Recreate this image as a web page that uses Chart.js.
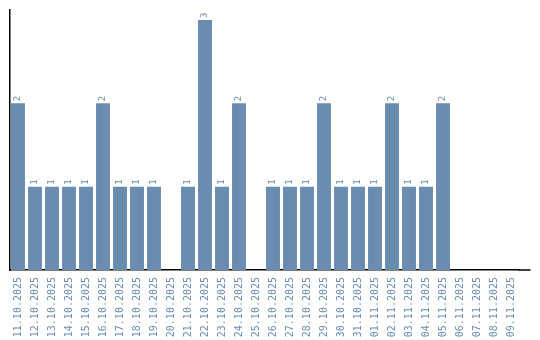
<!DOCTYPE html>
<html>
<head>
<meta charset="utf-8">
<script src="https://cdn.jsdelivr.net/npm/chart.js@4"></script>
<style>
  html, body { margin: 0; padding: 0; background: #fff; }
  #wrap { width: 540px; height: 340px; }
</style>
</head>
<body>
<div id="wrap"><canvas id="chart"></canvas></div>
<script>
const days = [
    '11.10.2025', '12.10.2025', '13.10.2025', '14.10.2025', '15.10.2025',
    '16.10.2025', '17.10.2025', '18.10.2025', '19.10.2025', '20.10.2025',
    '21.10.2025', '22.10.2025', '23.10.2025', '24.10.2025', '25.10.2025',
    '26.10.2025', '27.10.2025', '28.10.2025', '29.10.2025', '30.10.2025',
    '31.10.2025', '01.11.2025', '02.11.2025', '03.11.2025', '04.11.2025',
    '05.11.2025', '06.11.2025', '07.11.2025', '08.11.2025', '09.11.2025'
];
const counts = [2, 1, 1, 1, 1, 2, 1, 1, 1, 0, 1, 3, 1, 2, 0, 1, 1, 1, 2, 1, 1, 1, 2, 1, 1, 2, 0, 0, 0, 0];

const BLUE = '#6a8caf';
const MONO = '"DejaVu Sans Mono", monospace';

// value labels above each bar, rotated like the axis labels
const barLabels = {
    id: 'barLabels',
    afterDatasetsDraw(chart) {
        const ctx = chart.ctx;
        const meta = chart.getDatasetMeta(0);
        ctx.save();
        ctx.fillStyle = BLUE;
        ctx.font = '9px ' + MONO;
        ctx.textAlign = 'left';
        ctx.textBaseline = 'middle';
        meta.data.forEach((bar, i) => {
            if (!counts[i]) return;
            ctx.save();
            ctx.translate(bar.x, bar.y - 2);
            ctx.rotate(-Math.PI / 2);
            ctx.fillText(String(counts[i]), 0, 0);
            ctx.restore();
        });
        ctx.restore();
    }
};

// the baseline runs a little past the last category
const axisTail = {
    id: 'axisTail',
    afterDraw(chart) {
        const { ctx, chartArea } = chart;
        ctx.save();
        ctx.strokeStyle = '#000';
        ctx.lineWidth = 1.5;
        ctx.beginPath();
        ctx.moveTo(chartArea.right - 1, chartArea.bottom);
        ctx.lineTo(chartArea.right + 11, chartArea.bottom);
        ctx.stroke();
        ctx.restore();
    }
};

new Chart(document.getElementById('chart'), {
    type: 'bar',
    data: {
        labels: days,
        datasets: [{
            data: counts,
            backgroundColor: BLUE,
            barPercentage: 0.82,
            categoryPercentage: 1
        }]
    },
    options: {
        responsive: true,
        maintainAspectRatio: false,
        animation: false,
        layout: { padding: { left: 9.5, right: 20.5, top: 10, bottom: 0 } },
        plugins: { legend: { display: false }, tooltip: { enabled: false } },
        scales: {
            x: {
                grid: { display: false },
                border: { display: true, color: '#000', width: 1.5 },
                ticks: {
                    color: BLUE,
                    font: { family: MONO, size: 10 },
                    maxRotation: 90,
                    minRotation: 90,
                    autoSkip: false,
                    padding: -1
                },
                afterFit(scale) { scale.height = 70; }
            },
            y: {
                min: 0,
                max: 3.12,
                grid: { display: false },
                border: { display: true, color: '#000', width: 1.5 },
                ticks: { display: false },
                afterFit(scale) { scale.width = 0; }
            }
        }
    },
    plugins: [barLabels, axisTail]
});
</script>
</body>
</html>
